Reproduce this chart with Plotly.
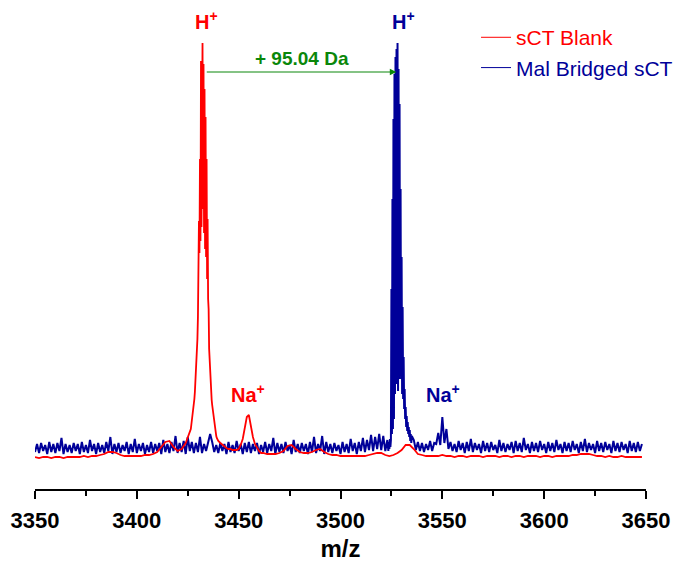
import plotly.graph_objects as go

# ---------------- data (intensity in arbitrary units) ----------------
# sCT Blank (red) -- piecewise sampled spectrum segments: (start m/z, step, values)
red_a_start, red_a_step = 3350, 2
red_a = [32, 31, 32, 32, 31, 32, 32, 31, 32, 32,
         32, 32, 33, 32, 33, 33, 34, 35, 37, 37,
         36, 34, 33, 33, 33, 33, 33, 34, 34, 35,
         37, 42, 47, 48, 42, 38, 40, 46, 56]
red_b_start, red_b_step = 3426.5, 0.25
red_b = [60, 64, 68, 71, 74, 77, 84, 90, 97, 106,
         114, 122, 132, 150, 172, 220, 268, 236, 330, 248,
         428, 262, 440, 446, 280, 425, 256, 400, 240, 372,
         232, 330, 210, 270, 190, 180, 140, 126, 112, 101,
         95, 89, 84, 80, 76, 70, 64, 60, 57, 55,
         53, 51, 50, 49, 48]
red_c_start, red_c_step = 3441, 1
red_c = [46, 44, 42, 41, 40, 40, 39, 39, 39, 40,
         44, 50, 60, 72, 74, 62, 52, 45, 41, 38,
         36, 36]
red_d_start, red_d_step = 3464, 2
red_d = [35, 35, 35, 36, 38, 43, 44, 40, 37, 36,
         36, 37, 39, 40, 37, 35, 34, 34, 33, 33,
         33, 33, 33, 33, 33, 34, 35, 36, 36, 34,
         33, 34, 36, 39, 44, 44, 40, 35, 34, 33,
         33, 33, 33, 34, 33, 33, 32, 33, 33, 32,
         33, 33, 33, 32, 33, 33, 33, 32, 33, 33,
         32, 33, 33, 32, 33, 33, 33, 32, 33, 33,
         32, 33, 33, 33, 33, 34, 34, 35, 35, 35,
         34, 33, 33, 32, 33, 32, 32, 33, 32, 32,
         32, 32, 32]

# Mal Bridged sCT (blue)
blue_a_start, blue_a_step = 3350, 1
blue_a = [37, 45, 36, 46, 38, 44, 35, 47, 37, 45,
          36, 46, 38, 51, 35, 45, 37, 44, 36, 46,
          38, 45, 35, 47, 37, 44, 36, 49, 38, 45,
          35, 46, 37, 44, 36, 47, 38, 52, 35, 45,
          37, 46, 36, 44, 38, 47, 35, 45, 37, 50,
          36, 45, 38, 46, 35, 44, 37, 47, 36, 45,
          38, 46, 35, 49, 37, 45, 36, 47, 38, 53,
          36, 46, 37, 48, 35, 52, 38, 47, 36, 46,
          37, 52, 36, 45, 38, 46, 55, 47, 37, 44,
          36, 46, 38, 45, 35, 47, 37, 44, 36, 48,
          38, 45, 35, 46, 37, 47, 36, 45, 38, 46,
          35, 44, 37, 47, 36, 45, 38, 51, 35, 46,
          37, 45, 36, 47, 38, 44, 35, 49, 37, 45,
          36, 46, 38, 45, 35, 47, 37, 52, 36, 45,
          38, 53, 35, 47, 37, 45, 36, 46, 38, 44,
          35, 47, 37, 45, 36, 50, 38, 46, 35, 47,
          38, 51, 37, 49, 39, 54, 38, 52, 40, 55,
          39, 53, 38, 49]
blue_b_start, blue_b_step = 3523.25, 0.25
blue_b = [44, 38, 47, 40, 50, 42, 49, 200, 55, 290,
          60, 370, 70, 415, 95, 432, 110, 440, 105, 446,
          98, 420, 110, 385, 120, 300, 110, 232, 95, 182,
          90, 132, 80, 100, 70, 82, 62, 73, 58, 67,
          55, 62, 52, 59, 48, 55, 46, 53]
blue_c_start, blue_c_step = 3536, 1
blue_c = [49, 39, 47, 38, 46, 37, 45, 39, 48, 38,
          46, 45, 56, 44, 72, 46, 60, 40, 47, 38,
          45, 37, 48, 39, 46, 36, 47, 38, 50, 37,
          46, 39, 45, 36, 48, 38, 46, 37, 47, 39,
          44, 36, 49, 38, 46, 37, 45, 39, 47, 36,
          48, 38, 46, 37, 51, 39, 45, 36, 47, 38,
          46, 37, 48, 39, 45, 36, 47, 38, 46, 37,
          49, 39, 45, 36, 47, 38, 46, 37, 48, 39,
          45, 36, 47, 38, 50, 37, 46, 39, 45, 36,
          48, 38, 46, 37, 47, 39, 45, 36, 48, 38,
          46, 37, 47, 39, 45, 36, 48, 38, 46, 37,
          47, 38, 45]

tick_values = [3350, 3400, 3450, 3500, 3550, 3600, 3650]
tick_labels = ["3350", "3400", "3450", "3500", "3550", "3600", "3650"]

series_names = ["sCT Blank", "Mal Bridged sCT"]
RED = "#ff0000"
BLUE = "#000099"
GREEN = "#0a870a"
FONT = "Liberation Sans, Arial, sans-serif"


def build(segments):
    xs, ys = [], []
    for start, step, vals in segments:
        for i, v in enumerate(vals):
            xs.append(start + step * i)
            ys.append(v)
    return xs, ys


red_x, red_y = build([(red_a_start, red_a_step, red_a), (red_b_start, red_b_step, red_b),
                      (red_c_start, red_c_step, red_c), (red_d_start, red_d_step, red_d)])
blue_x, blue_y = build([(blue_a_start, blue_a_step, blue_a), (blue_b_start, blue_b_step, blue_b),
                        (blue_c_start, blue_c_step, blue_c)])

fig = go.Figure()
fig.add_trace(go.Scatter(x=blue_x, y=blue_y, mode="lines",
                         line=dict(color=BLUE, width=2),
                         name=series_names[1], showlegend=False))
fig.add_trace(go.Scatter(x=red_x, y=red_y, mode="lines",
                         line=dict(color=RED, width=1.8),
                         name=series_names[0], showlegend=False))
# legend entries (thin sample lines like the original legend)
fig.add_trace(go.Scatter(x=[None], y=[None], mode="lines",
                         line=dict(color=RED, width=1),
                         name=f'<span style="color:{RED}">{series_names[0]}</span>',
                         legendrank=1))
fig.add_trace(go.Scatter(x=[None], y=[None], mode="lines",
                         line=dict(color=BLUE, width=1),
                         name=f'<span style="color:{BLUE}">{series_names[1]}</span>',
                         legendrank=2))

ann_font = dict(family=FONT, size=20)
annotations = [
    dict(x=3434.3, y=469, text="<b>H<sup>+</sup></b>", font=dict(**ann_font, color=RED)),
    dict(x=3530.9, y=469, text="<b>H<sup>+</sup></b>", font=dict(**ann_font, color=BLUE)),
    dict(x=3454.8, y=96, text="<b>Na<sup>+</sup></b>", font=dict(**ann_font, color=RED)),
    dict(x=3550.1, y=96, text="<b>Na<sup>+</sup></b>", font=dict(**ann_font, color=BLUE)),
    dict(x=3481.1, y=431, text="<b>+ 95.04 Da</b>", font=dict(family=FONT, size=19, color=GREEN)),
]
for a in annotations:
    a.update(xref="x", yref="y", showarrow=False)
annotations.append(dict(x=3527.4, y=417, ax=3433.6, ay=417, xref="x", yref="y",
                        axref="x", ayref="y", text="", showarrow=True,
                        arrowhead=2, arrowsize=1.3, arrowwidth=1, arrowcolor=GREEN,
                        standoff=0, startstandoff=0))

fig.update_layout(
    width=682, height=561,
    margin=dict(l=27, r=44, t=0, b=80, autoexpand=False),
    paper_bgcolor="white", plot_bgcolor="white",
    font=dict(family=FONT, color="black"),
    showlegend=True,
    legend=dict(x=0.7218, y=0.981, xanchor="left", yanchor="top",
                font=dict(family=FONT, size=21), bgcolor="rgba(0,0,0,0)",
                tracegroupgap=0),
    annotations=annotations,
    xaxis=dict(range=[3350, 3650], showgrid=False, zeroline=False, automargin=False,
               showline=True, linecolor="black", linewidth=1.5,
               ticks="outside", ticklen=8, tickwidth=1.5, tickcolor="black",
               tickvals=tick_values, ticktext=[f"<b>{t}</b>" for t in tick_labels],
               tickfont=dict(family=FONT, size=22, color="black"),
               ticklabelstandoff=3,
               minor=dict(ticks="outside", dtick=25, tick0=3350, ticklen=5,
                          tickwidth=1.5, tickcolor="black", showgrid=False),
               title=dict(text="<b>m/z</b>", font=dict(family=FONT, size=24),
                          standoff=8)),
    yaxis=dict(range=[0, 481], visible=False, showgrid=False, zeroline=False,
               automargin=False),
)

fig.write_html("out.html")
